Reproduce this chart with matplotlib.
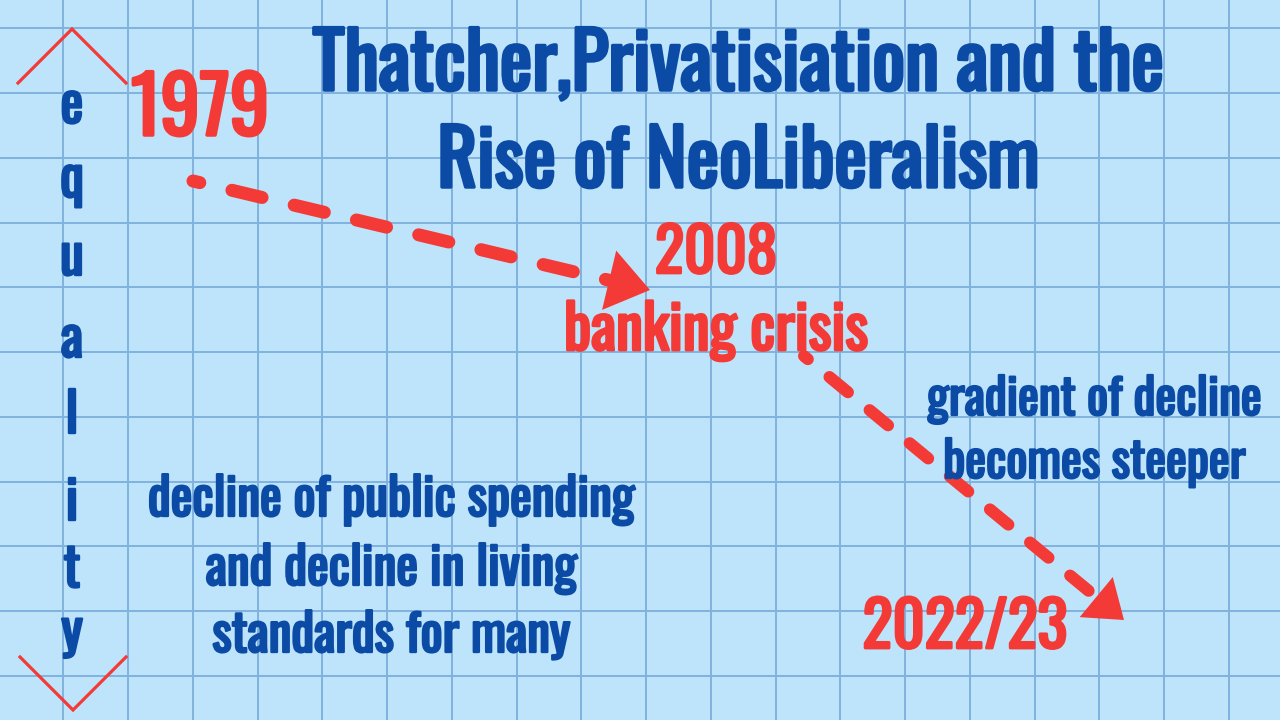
import matplotlib
matplotlib.use('Agg')
import matplotlib.pyplot as plt
import matplotlib.patheffects as pe
import numpy as np
from matplotlib import font_manager
from matplotlib.patches import Polygon

# --- contenido del gráfico ---
title_lines = ['Thatcher,Privatisiation and the', 'Rise of NeoLiberalism']
axis_word = 'equality'
start_year = '1979'
crisis_lines = ['2008', 'banking crisis']
end_year = '2022/23'
left_note = ['decline of public spending', 'and decline in living', 'standards for many']
right_note = ['gradient of decline', 'becomes steeper']

# tramos de la caída (en px de la imagen): inicio -> punta de flecha
decline_1979_2008 = [(193, 181), (650, 290)]
decline_2008_2023 = [(804, 356), (1124, 620)]

BG = '#bde4fa'
GRID = '#80b2de'
RED = '#f43a37'
BLUE = '#0b4ba6'

available = {f.name for f in font_manager.fontManager.ttflist}
FONT = 'DejaVu Sans'
for fam in ['Oswald', 'Roboto Condensed', 'Liberation Sans Narrow', 'Open Sans Condensed']:
    if fam in available:
        FONT = fam
        break

plt.rcParams['lines.scale_dashes'] = False

fig = plt.figure(figsize=(12.8, 7.2), dpi=100)
fig.patch.set_facecolor(BG)
ax = fig.add_axes([0, 0, 1, 1])
ax.set_facecolor(BG)
ax.set_xlim(0, 1280)
ax.set_ylim(720, 0)

step = 64.75
ax.set_xticks(np.arange(63.3, 1280, step))
ax.set_yticks(np.arange(28.3, 720, step))
ax.grid(True, color=GRID, lw=1.4)
ax.set_axisbelow(True)
ax.tick_params(length=0, labelbottom=False, labelleft=False)
for s in ax.spines.values():
    s.set_visible(False)

renderer = fig.canvas.get_renderer()
SHRINK = 0.95  # la fuente no tiene negrita: algo más baja y engordada con trazo


def fit_size(text, width, probe=40):
    t = ax.text(0, 0, text, fontsize=probe, fontfamily=FONT, fontweight='bold')
    w = t.get_window_extent(renderer).width
    t.remove()
    return probe * width / w * SHRINK


def put_text(x, y, s, size, color):
    ax.text(x, y, s, ha='center', va='baseline', fontsize=size,
            fontfamily=FONT, fontweight='bold', color=color,
            path_effects=[pe.withStroke(linewidth=size * 0.045, foreground=color)])


def put_lines(lines, cx, baselines, size, color):
    for line, y in zip(lines, baselines):
        put_text(cx, y, line, size, color)


def dashed_arrow(pts, lw_px, on, off, offset, head_len, head_w):
    p0 = np.array(pts[0], float)
    p1 = np.array(pts[1], float)
    d = (p1 - p0) / np.linalg.norm(p1 - p0)
    n = np.array([-d[1], d[0]])
    base = p1 - d * head_len
    k = 0.72  # px -> pt
    ax.plot([p0[0], base[0]], [p0[1], base[1]], color=RED, lw=lw_px * k,
            linestyle=(offset * k, (on * k, off * k)), dash_capstyle='round')
    tri = [p1, base + n * head_w / 2, base - n * head_w / 2]
    ax.add_patch(Polygon(tri, closed=True, facecolor=RED, edgecolor='none'))


# flechas discontinuas
dashed_arrow(decline_1979_2008, 13, 31, 33, 24, 42, 61)
dashed_arrow(decline_2008_2023, 12, 24, 28, 19, 36, 52)

# eje "equality" con chevrones
ax.plot([18, 72, 126], [83, 29, 83], color=RED, lw=2.3, solid_joinstyle='miter')
ax.plot([20, 73, 126], [657, 710, 657], color=RED, lw=2.3, solid_joinstyle='miter')
letter_base = [123, 197, 275, 357, 433, 520, 587, 650]
for ch, y in zip(axis_word, letter_base):
    put_text(72, y, ch, 39, BLUE)

# textos
put_lines(title_lines, 738, [90, 187], fit_size(title_lines[0], 895), BLUE)

put_lines([start_year], 200, [135], fit_size(start_year, 144) / SHRINK * 0.96, RED)
put_lines(crisis_lines, 716, [273, 350], fit_size(crisis_lines[1], 320), RED)
put_lines([end_year], 965, [648], fit_size(end_year, 220) / SHRINK * 0.93, RED)

put_lines(left_note, 391, [516, 585, 652], fit_size(left_note[0], 512), BLUE)
put_lines(right_note, 1094, [415, 478], fit_size(right_note[0], 352), BLUE)

fig.savefig('out.png', dpi=100, facecolor=BG)
